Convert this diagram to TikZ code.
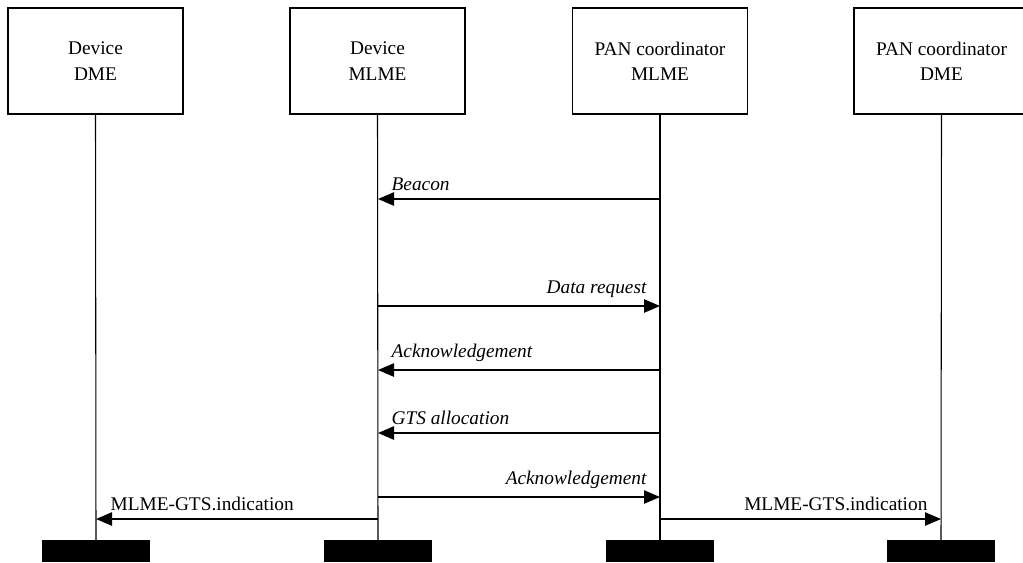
\documentclass[tikz,border=0pt]{standalone}
\usepackage{fontspec}
\setmainfont{Liberation Serif}
\usepackage{tikz}
\usetikzlibrary{arrows.meta, positioning}

\begin{document}
\begin{tikzpicture}[x=0.75pt, y=-0.75pt,
    entity/.style={draw=black, line width=0.8pt, rectangle, minimum width=131.25pt, minimum height=79.5pt, align=center, inner sep=0pt, font=\fontsize{14.5}{19}\selectfont},
    bar/.style={fill=black, rectangle, minimum width=81pt, minimum height=16.5pt, inner sep=0pt, anchor=north},
    life_line/.style={line width=0.8pt, draw=black},
    msg/.style={line width=1.1pt, draw=black, -{Triangle[length=12pt, width=10pt]}},
    msg_label/.style={inner sep=1pt, font=\fontsize{14.5}{17}\selectfont\itshape},
    prim_label/.style={inner sep=1pt, font=\fontsize{14.5}{17}\selectfont}
]
    \useasboundingbox (0,0) rectangle (1023,562);
    \clip (0,0) rectangle (1023,562);

    % Entities
    \node (dev_dme) [entity] at (95.5, 61) {Device\\DME};
    \node (dev_mlme) [entity] at (377.5, 61) {Device\\MLME};
    \node (pan_mlme) [entity] at (660, 61) {PAN coordinator\\MLME};
    \node (pan_dme) [entity] at (941.5, 61) {PAN coordinator\\DME};

    % End bars
    \node (bar1) [bar] at (96, 540) {};
    \node (bar2) [bar] at (378, 540) {};
    \node (bar3) [bar] at (660, 540) {};
    \node (bar4) [bar] at (941, 540) {};

    % Lifelines
    \draw [life_line] (dev_dme.south) -- (bar1.north);
    \draw [life_line] (dev_mlme.south) -- (bar2.north);
    \draw [life_line] (pan_mlme.south) -- (bar3.north);
    \draw [life_line] (pan_dme.south) -- (bar4.north);

    % Message points on the lifelines
    \coordinate (beacon_from) at (660, 199);
    \coordinate (beacon_to) at (378, 199);
    \coordinate (dreq_from) at (378, 306);
    \coordinate (dreq_to) at (660, 306);
    \coordinate (ack1_from) at (660, 370);
    \coordinate (ack1_to) at (378, 370);
    \coordinate (gts_from) at (660, 433);
    \coordinate (gts_to) at (378, 433);
    \coordinate (ack2_from) at (378, 497);
    \coordinate (ack2_to) at (660, 497);
    \coordinate (ind_dev_from) at (378, 519);
    \coordinate (ind_dev_to) at (96, 519);
    \coordinate (ind_pan_from) at (660, 519);
    \coordinate (ind_pan_to) at (941, 519);

    % Messages
    \draw [msg] (beacon_from) -- (beacon_to);
    \node (beacon_label) [msg_label, anchor=south west] at (390, 192) {Beacon};

    \draw [msg] (dreq_from) -- (dreq_to);
    \node (dreq_label) [msg_label, anchor=south east] at (648, 299) {Data request};

    \draw [msg] (ack1_from) -- (ack1_to);
    \node (ack1_label) [msg_label, anchor=south west] at (390, 363) {Acknowledgement};

    \draw [msg] (gts_from) -- (gts_to);
    \node (gts_label) [msg_label, anchor=south west] at (390, 426) {GTS allocation};

    \draw [msg] (ack2_from) -- (ack2_to);
    \node (ack2_label) [msg_label, anchor=south east] at (648, 490) {Acknowledgement};

    \draw [msg] (ind_dev_from) -- (ind_dev_to);
    \node (ind_dev_label) [prim_label, anchor=south west] at (109, 512) {MLME-GTS.indication};

    \draw [msg] (ind_pan_from) -- (ind_pan_to);
    \node (ind_pan_label) [prim_label, anchor=south east] at (929, 512) {MLME-GTS.indication};
\end{tikzpicture}
\end{document}
